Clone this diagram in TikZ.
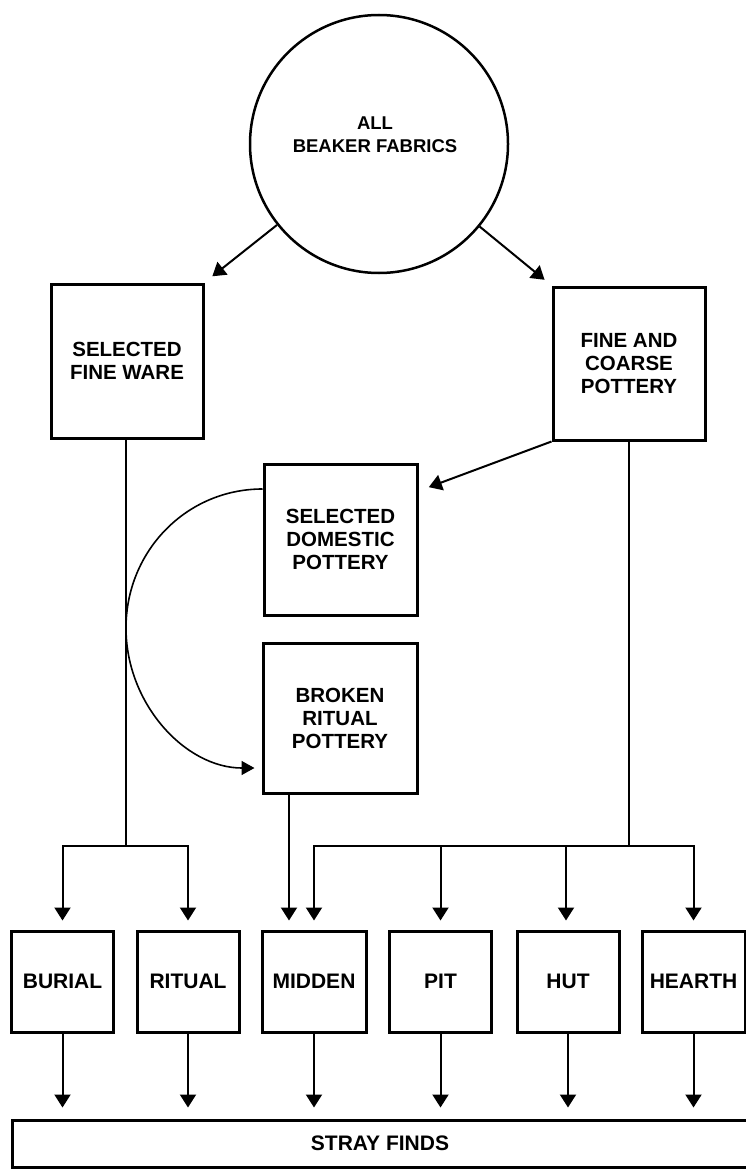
\documentclass[tikz,border=0pt]{standalone}
\usepackage{fontspec}
\setmainfont{Liberation Sans}
\usetikzlibrary{arrows.meta,calc}
\begin{document}
\begin{tikzpicture}[x=1pt,y=-1pt,
  txt/.style={align=center,inner sep=0pt,font=\bfseries\fontsize{20.5}{23}\selectfont},
  box/.style={txt,draw,line width=3pt},
  bigbox/.style={box,minimum width=152pt,minimum height=152pt},
  smallbox/.style={box,minimum width=102pt,minimum height=101pt,font=\bfseries\fontsize{21}{23}\selectfont},
  conn/.style={line width=2pt},
  arr/.style={line width=2pt,-{Triangle[length=13pt,width=16pt]}},
]
\useasboundingbox (0,0) rectangle (746,1169);
% top circle
\node[circle,draw,line width=2.5pt,minimum size=258pt,inner sep=0pt] (all) at (379,144) {};
\node[txt,font=\bfseries\fontsize{18.5}{23}\selectfont] (alltxt) at (375,135) {ALL\\BEAKER FABRICS};
% upper boxes
\node[bigbox,minimum height=154pt] (sfw) at (127,361) {SELECTED\\FINE WARE};
\node[bigbox,minimum height=153pt] (fcp) at (629,363.5) {FINE AND\\COARSE\\POTTERY};
\node[bigbox,minimum width=153pt,minimum height=151pt] (dom) at (340.5,539.5) {SELECTED\\DOMESTIC\\POTTERY};
\node[bigbox,minimum width=154pt,minimum height=150pt] (rit) at (340,718) {BROKEN\\RITUAL\\POTTERY};
% bottom boxes
\node[smallbox] (burial) at (62.5,981.5) {BURIAL};
\node[smallbox] (ritual) at (188,981.5) {RITUAL};
\node[smallbox,minimum width=104pt] (midden) at (314,981.5) {MIDDEN};
\node[smallbox] (pit) at (440.5,981.5) {PIT};
\node[smallbox] (hut) at (568,981.5) {HUT};
\node[smallbox,minimum width=103pt] (hearth) at (693.5,981.5) {HEARTH};
\node[box,minimum width=736pt,minimum height=47pt,font=\bfseries\fontsize{21}{23}\selectfont] (stray) at (380,1143.5) {STRAY FINDS};
% connectors from circle
\draw[arr,shorten >=10pt] (all) -- (sfw.north east);
\draw[arr,shorten >=9pt] (all) -- (fcp.north west);
\draw[arr,shorten >=11pt] (fcp.south west) -- ([yshift=48.5pt]dom.east);
% curved connector
\coordinate (cl) at (126,628);
\draw[line width=1.6pt,-{Triangle[length=13pt,width=14pt]},shorten >=7pt]
  ([yshift=50.5pt]dom.west) .. controls +(-76,0) and +(0,-77) .. (cl)
  .. controls +(0,76) and +(-76,0) .. ([yshift=-50pt]rit.west);
% left branch
\coordinate (lj) at (126,846);
\draw[conn] (sfw.south -| lj) -- (lj);
\draw[arr,shorten >=9pt] (lj) -| (burial.north);
\draw[arr,shorten >=9pt] (lj) -| (ritual.north);
% right branch
\coordinate (rj) at (fcp.south |- lj);
\draw[conn] (fcp.south) -- (rj);
\draw[arr,shorten >=9pt] (rj) -| (midden.north);
\draw[arr,shorten >=9pt] (rj) -| (pit.north);
\draw[arr,shorten >=9pt] (rj) -| ([xshift=-2pt]hut.north);
\draw[arr,shorten >=9pt] (rj) -| (hearth.north);
% broken ritual to midden
\draw[arr,shorten >=9pt] ([xshift=-51pt]rit.south) -- ([xshift=-25pt]midden.north);
% to stray finds
\foreach \n in {burial,ritual,midden,pit,hut,hearth}
  \draw[arr,shorten >=11pt] (\n.south) -- (\n.south |- stray.north);
\end{tikzpicture}
\end{document}
